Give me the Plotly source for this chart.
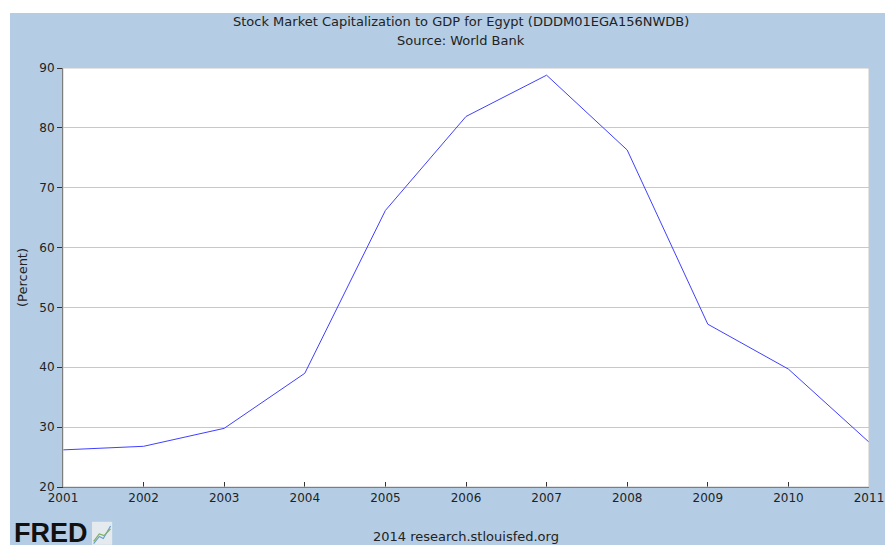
import plotly.graph_objects as go

years = [2001, 2002, 2003, 2004, 2005, 2006, 2007, 2008, 2009, 2010, 2011]
percent = [26.2, 26.8, 29.8, 39.0, 66.2, 81.9, 88.8, 76.3, 47.2, 39.7, 27.5]

title_line1 = "Stock Market Capitalization to GDP for Egypt (DDDM01EGA156NWDB)"
title_line2 = "Source: World Bank"
footer_text = "2014 research.stlouisfed.org"

bg_blue = "#B4CDE4"
font_main = "DejaVu Sans"

fig = go.Figure()

fig.add_trace(go.Scatter(
    x=years,
    y=percent,
    mode="lines",
    line=dict(color="#4040FF", width=1),
    showlegend=False,
    hoverinfo="x+y",
))

# plot frame (light top/right)
fig.add_shape(type="rect", xref="paper", yref="paper",
              x0=0, x1=1, y0=0, y1=1,
              line=dict(color="#C8C8C8", width=1), layer="above")

fig.update_layout(
    width=885,
    height=545,
    margin=dict(l=63, r=16, t=68, b=58),
    paper_bgcolor=bg_blue,
    plot_bgcolor="white",
    font=dict(family=font_main, size=12, color="#222222"),
    xaxis=dict(
        range=[2001, 2011],
        tickmode="array",
        tickvals=years,
        ticktext=[str(y) for y in years],
        ticks="inside",
        ticklen=5,
        tickcolor="#333333",
        showgrid=False,
        showline=True,
        linecolor="#333333",
        linewidth=1,
        zeroline=False,
        automargin=False,
        tickfont=dict(family=font_main, size=12, color="#222222"),
    ),
    yaxis=dict(
        range=[20, 90],
        tickmode="array",
        tickvals=[20, 30, 40, 50, 60, 70, 80, 90],
        ticks="outside",
        ticklen=5,
        tickcolor="#333333",
        showgrid=True,
        gridcolor="#C8C8C8",
        gridwidth=1,
        showline=True,
        linecolor="#333333",
        linewidth=1,
        zeroline=False,
        automargin=False,
        title=dict(text="(Percent)", standoff=8,
                   font=dict(family=font_main, size=13, color="#222222")),
        tickfont=dict(family=font_main, size=12, color="#222222"),
    ),
)

# white strips along the top and left edge of the original image
fig.add_annotation(
    text=" ", xref="paper", yref="paper",
    x=-0.0782, y=1.1623, xanchor="left", yanchor="top",
    width=900, height=13, borderpad=0, borderwidth=0,
    bgcolor="white", showarrow=False, font=dict(size=1),
)
fig.add_annotation(
    text=" ", xref="paper", yref="paper",
    x=-0.0782, y=1.1623, xanchor="left", yanchor="top",
    width=10, height=560, borderpad=0, borderwidth=0,
    bgcolor="white", showarrow=False, font=dict(size=1),
)

# title as two centred lines
fig.add_annotation(
    text=title_line1, xref="paper", yref="paper",
    x=0.494, y=1.1098, xanchor="center", yanchor="middle",
    showarrow=False, font=dict(family=font_main, size=13, color="#222222"),
)
fig.add_annotation(
    text=title_line2, xref="paper", yref="paper",
    x=0.494, y=1.0668, xanchor="center", yanchor="middle",
    showarrow=False, font=dict(family=font_main, size=13, color="#222222"),
)

fig.add_annotation(
    text=footer_text, xref="paper", yref="paper",
    x=0.5, y=-0.138, xanchor="center", yanchor="bottom",
    yshift=-1, showarrow=False,
    font=dict(family=font_main, size=13, color="#222222"),
)
fig.add_annotation(
    text="<b>FRED</b>", xref="paper", yref="paper",
    x=-0.063, y=-0.138, xanchor="left", yanchor="bottom",
    yshift=-5, showarrow=False,
    font=dict(family="Liberation Sans", size=27, color="#111111"),
)
# small chart icon next to logo
fig.add_shape(type="rect", xref="paper", yref="paper",
              x0=0.036, x1=0.061, y0=-0.138, y1=-0.083,
              fillcolor="#E4EAEE", line_width=0, layer="above")
fig.add_shape(type="path", xref="paper", yref="paper",
              path="M 0.038,-0.135 L 0.045,-0.118 L 0.050,-0.123 L 0.059,-0.093",
              line=dict(color="#6A9ED0", width=1.2), layer="above")
fig.add_shape(type="path", xref="paper", yref="paper",
              path="M 0.038,-0.130 L 0.045,-0.112 L 0.051,-0.116 L 0.059,-0.100",
              line=dict(color="#7FB060", width=1.2), layer="above")

# remove the default page margin so the figure sits at the window's corner
fig.write_html("out.html", config={"displayModeBar": False},
               post_script="document.body.style.margin='0px';")
